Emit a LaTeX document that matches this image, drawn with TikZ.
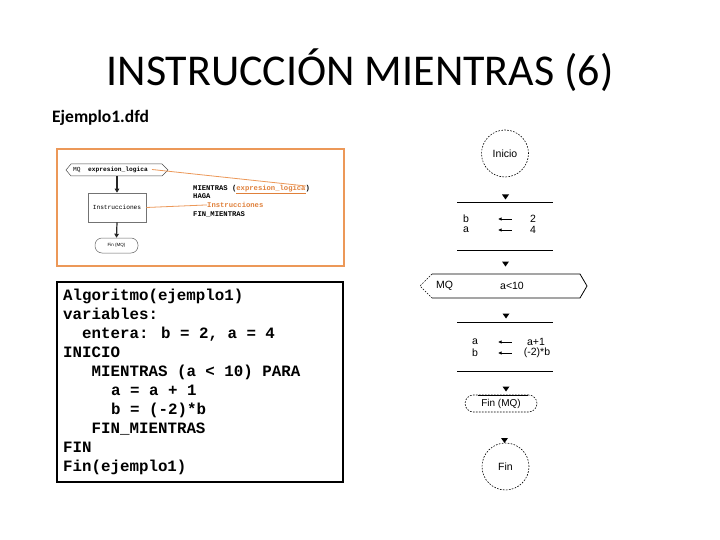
\documentclass[tikz,border=0pt]{standalone}
\usepackage{fontspec}
\setmainfont{Carlito}
\newfontfamily\codefont{Liberation Mono}
\newfontfamily\arialfont{Liberation Sans}
\usetikzlibrary{arrows.meta}
\definecolor{frameorange}{RGB}{236,152,88}
\definecolor{textorange}{RGB}{224,128,58}
\tikzset{
  codeline/.style={anchor=base west, inner sep=0pt, font=\codefont\bfseries\fontsize{15.8}{19}\selectfont},
  smallcode/.style={anchor=base west, inner sep=0pt, font=\codefont\bfseries\fontsize{7.2}{8}\selectfont},
  tinycode/.style={inner sep=0pt, font=\codefont\fontsize{6.2}{7}\selectfont},
  flowtxt/.style={inner sep=0pt, font=\arialfont\fontsize{10.5}{12}\selectfont},
  dashcirc/.style={circle, draw, line width=0.6pt, dash pattern=on 1.6pt off 1.4pt, minimum size=47pt, inner sep=0pt},
  flowline/.style={line width=0.8pt},
  tri/.style={fill=black},
  assign/.style={line width=0.8pt, {Latex[length=3.5pt,width=3.5pt]}-},
  boxarrow/.style={line width=1.2pt, black!85, -{Triangle[length=4pt,width=4.5pt]}},
  orangeline/.style={frameorange, line width=0.8pt}
}
\begin{document}
\begin{tikzpicture}[x=1pt,y=-1pt]
\useasboundingbox (0,0) rectangle (720,540);
\fill[white] (0,0) rectangle (720,540);

% title
\node[anchor=base, inner sep=0pt, font=\fontsize{44}{50}\selectfont] (title) at (360,86) {INSTRUCCIÓN MIENTRAS (6)};
\node[anchor=base west, inner sep=0pt, font=\bfseries\fontsize{17.5}{20}\selectfont] (ej) at (52,123) {Ejemplo1.dfd};

% orange framed image
\draw[frameorange, line width=2.5pt] (57,149) rectangle (344,266);
\draw[line width=0.5pt, black!70] (66,170) -- (71,164) -- (162,164) -- (168,170) -- (162,176) -- (71,176) -- cycle;
\coordinate (hexb) at (117,176);
\node[tinycode, anchor=west] (mqa) at (73,170) {MQ};
\node[tinycode, anchor=west, font=\codefont\bfseries\fontsize{6.2}{7}\selectfont] (expr) at (88,170) {expresion\_logica};
\node[tinycode, draw=black!55, line width=0.6pt, minimum width=58pt, minimum height=29pt] (instr) at (117,207.5) {Instrucciones};
\node[inner sep=0pt, draw=black!60, line width=0.5pt, rounded corners=7pt, minimum width=43pt, minimum height=15pt, font=\arialfont\fontsize{4.5}{5}\selectfont] (finmq) at (116.5,245.5) {Fin (MQ)};
\draw[boxarrow] (hexb) -- (instr.north);
\draw[boxarrow] (instr.south) -- (finmq.north);

\node[smallcode] (m1) at (193,190.5) {MIENTRAS (\textcolor{textorange}{\underline{expresion\_logica}})};
\node[smallcode] (m2) at (193,199) {HAGA};
\node[smallcode, textorange] (m3) at (207,207.5) {Instrucciones};
\node[smallcode] (m4) at (193,216) {FIN\_MIENTRAS};
\coordinate (e1) at (306,186);
\draw[orangeline] (152,169.5) -- (e1);
\draw[orangeline] (instr.east) -- (m3.west);

% code box
\draw[line width=1.3pt] (57,282) rectangle (343,482);
\node[codeline] (c1) at (63,300) {Algoritmo(ejemplo1)};
\node[codeline] (c2) at (63,319) {variables:};
\node[codeline] (c3) at (82,338) {entera: b = 2, a = 4};
\node[codeline] (c4) at (63,357) {INICIO};
\node[codeline] (c5) at (91.5,376) {MIENTRAS (a < 10) PARA};
\node[codeline] (c6) at (111,395) {a = a + 1};
\node[codeline] (c7) at (111,414) {b = (-2)*b};
\node[codeline] (c8) at (91.5,433) {FIN\_MIENTRAS};
\node[codeline] (c9) at (63,452) {FIN};
\node[codeline] (c10) at (63,471) {Fin(ejemplo1)};

% right flowchart
\node[dashcirc, font=\arialfont\fontsize{10.5}{12}\selectfont] (inicio) at (505,153.5) {Inicio};

\fill[tri] (502,194.5) -- (509,194.5) -- (505.5,199.5) -- cycle;
\draw[flowline] (457,202) -- (553,202);
\node[flowtxt] (vb) at (466,219) {b};
\draw[assign] (498,219) -- (512,219);
\node[flowtxt] (v2) at (533,219) {2};
\node[flowtxt] (va) at (466,230) {a};
\draw[assign] (498,230) -- (512,230);
\node[flowtxt] (v4) at (533,230) {4};
\draw[flowline] (457,250) -- (553,250);

\fill[tri] (502,261.5) -- (509,261.5) -- (505.5,266.5) -- cycle;
\draw[flowline] (432,274) -- (580,274) -- (587,286) -- (580,298) -- (432,298);
\draw[line width=0.6pt, dash pattern=on 1.6pt off 1.4pt] (432,274) -- (420,286) -- (432,298);
\node[flowtxt, anchor=west] (mq) at (436,286) {MQ};
\node[flowtxt] (cond) at (512,286) {a<10};

\fill[tri] (502.5,313.5) -- (509.5,313.5) -- (506,318.5) -- cycle;
\draw[flowline] (457,322) -- (553,322);
\node[flowtxt] (va2) at (475,342) {a};
\draw[assign] (498,342) -- (512,342);
\node[flowtxt] (e2) at (536,342) {a+1};
\node[flowtxt] (vb2) at (475,353) {b};
\draw[assign] (498,353) -- (512,353);
\node[flowtxt] (e3) at (537,353) {(-2)*b};
\draw[flowline] (457,371) -- (553,371);

\fill[tri] (502.5,386.5) -- (509.5,386.5) -- (506,391.5) -- cycle;
\node[draw, line width=0.6pt, dash pattern=on 1.6pt off 1.4pt, rounded corners=8.5pt, minimum width=72pt, minimum height=17pt, inner sep=0pt, font=\arialfont\fontsize{10}{12}\selectfont] (finmq2) at (501,403.5) {Fin (MQ)};
\draw[flowline] (478,395) -- (528,395);

\fill[tri] (501,438) -- (508,438) -- (504.5,443) -- cycle;
\node[dashcirc, font=\arialfont\fontsize{10.5}{12}\selectfont] (fin) at (505.5,466.5) {Fin};
\end{tikzpicture}
\end{document}
